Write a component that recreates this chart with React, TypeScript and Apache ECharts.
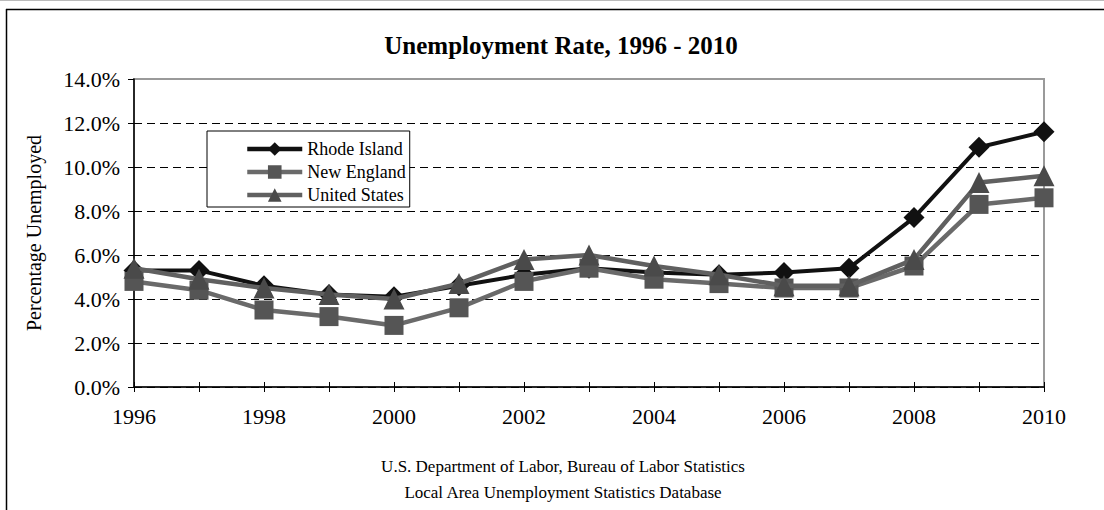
import React, { useEffect, useRef } from "react";
import * as echarts from "echarts";

const years = ["1996", "1997", "1998", "1999", "2000", "2001", "2002", "2003", "2004", "2005", "2006", "2007", "2008", "2009", "2010"];
const rhodeIsland = [5.3, 5.3, 4.6, 4.2, 4.1, 4.6, 5.1, 5.4, 5.2, 5.1, 5.2, 5.4, 7.7, 10.9, 11.6];
const newEngland = [4.8, 4.4, 3.5, 3.2, 2.8, 3.6, 4.8, 5.4, 4.9, 4.7, 4.5, 4.5, 5.5, 8.3, 8.6];
const unitedStates = [5.4, 4.9, 4.5, 4.2, 4.0, 4.7, 5.8, 6.0, 5.5, 5.1, 4.6, 4.6, 5.8, 9.3, 9.6];
const titleText = "Unemployment Rate, 1996 - 2010";
const yAxisName = "Percentage Unemployed";
const sourceLines = ["U.S. Department of Labor, Bureau of Labor Statistics", "Local Area Unemployment Statistics Database"];

const FONT = "'Liberation Serif', 'Times New Roman', serif";

export default function App() {
  const ref = useRef<HTMLDivElement>(null);
  useEffect(() => {
    document.body.style.margin = "0";
    const chart = echarts.init(ref.current!, null, { renderer: "svg" });
    chart.setOption({
      animation: false,
      backgroundColor: "#fff",
      textStyle: { fontFamily: FONT, color: "#000" },
      grid: {
        left: 134,
        right: 60,
        top: 79,
        bottom: 123,
        show: true,
        borderColor: "#9a9a9a",
        borderWidth: 2,
        backgroundColor: "transparent",
      },
      legend: {
        orient: "vertical",
        left: 207,
        top: 131,
        padding: [9, 4, 3, 38],
        itemGap: 5,
        itemWidth: 55,
        itemHeight: 17,
        backgroundColor: "#fff",
        borderColor: "#000",
        borderWidth: 1,
        lineStyle: { width: 4.5 },
        textStyle: { fontFamily: FONT, fontSize: 18, color: "#000" },
        data: ["Rhode Island", "New England", "United States"],
      },
      xAxis: [
        {
          type: "category",
          data: years,
          boundaryGap: false,
          position: "bottom",
          axisLine: { lineStyle: { color: "#000", width: 1.5 } },
          axisTick: { show: true, interval: 0, length: 5, lineStyle: { color: "#000", width: 1 } },
          axisLabel: { interval: 1, margin: 18, fontFamily: FONT, fontSize: 22, color: "#000" },
          splitLine: { show: false },
        },
        {
          type: "category",
          data: years,
          boundaryGap: false,
          position: "bottom",
          axisLine: { show: false },
          axisTick: { show: true, inside: true, interval: 0, length: 5, lineStyle: { color: "#000", width: 1 } },
          axisLabel: { show: false },
          splitLine: { show: false },
        },
      ],
      yAxis: {
        type: "value",
        min: 0,
        max: 14,
        interval: 2,
        name: yAxisName,
        nameLocation: "middle",
        nameRotate: 90,
        nameGap: 90,
        nameTextStyle: { fontFamily: FONT, fontSize: 20, color: "#000" },
        axisLine: { show: true, lineStyle: { color: "#000", width: 1.5 } },
        axisTick: { show: true, length: 6, lineStyle: { color: "#000", width: 1 } },
        axisLabel: {
          margin: 14,
          fontFamily: FONT,
          fontSize: 22,
          color: "#000",
          formatter: (v: number) => v.toFixed(1) + "%",
        },
        splitLine: {
          show: true,
          lineStyle: {
            color: ["#000", "#000", "#000", "#000", "#000", "#000", "#000", "rgba(0,0,0,0)"],
            width: 1,
            type: [8, 5],
          },
        },
      },
      series: [
        {
          name: "Rhode Island",
          type: "line",
          data: rhodeIsland,
          symbol: "diamond",
          symbolSize: 21,
          lineStyle: { color: "#111", width: 4 },
          itemStyle: { color: "#111" },
          z: 2,
        },
        {
          name: "New England",
          type: "line",
          data: newEngland,
          symbol: "rect",
          symbolSize: 19,
          lineStyle: { color: "#6a6a6a", width: 4.5 },
          itemStyle: { color: "#555" },
          z: 3,
        },
        {
          name: "United States",
          type: "line",
          data: unitedStates,
          symbol: "triangle",
          symbolSize: 21,
          lineStyle: { color: "#606060", width: 4.5 },
          itemStyle: { color: "#4a4a4a" },
          z: 4,
        },
      ],
      graphic: [
        { type: "line", shape: { x1: 0, y1: 0.5, x2: 1104, y2: 0.5 }, style: { stroke: "#bbb", lineWidth: 1 } },
        { type: "line", shape: { x1: 6, y1: 9.5, x2: 1104, y2: 9.5 }, style: { stroke: "#000", lineWidth: 1.5 } },
        { type: "line", shape: { x1: 6.5, y1: 9, x2: 6.5, y2: 510 }, style: { stroke: "#000", lineWidth: 1.5 } },
        {
          type: "text",
          x: 561,
          y: 45,
          style: {
            text: titleText,
            fontFamily: FONT,
            fontSize: 25,
            fontWeight: "bold",
            fill: "#000",
            align: "center",
            verticalAlign: "middle",
          },
        },
        {
          type: "text",
          x: 563,
          y: 466,
          style: { text: sourceLines[0], fontFamily: FONT, fontSize: 17, fill: "#000", align: "center", verticalAlign: "middle" },
        },
        {
          type: "text",
          x: 563,
          y: 492,
          style: { text: sourceLines[1], fontFamily: FONT, fontSize: 17, fill: "#000", align: "center", verticalAlign: "middle" },
        },
      ],
    });
    return () => chart.dispose();
  }, []);
  return <div ref={ref} style={{ width: 1104, height: 510 }} />;
}
